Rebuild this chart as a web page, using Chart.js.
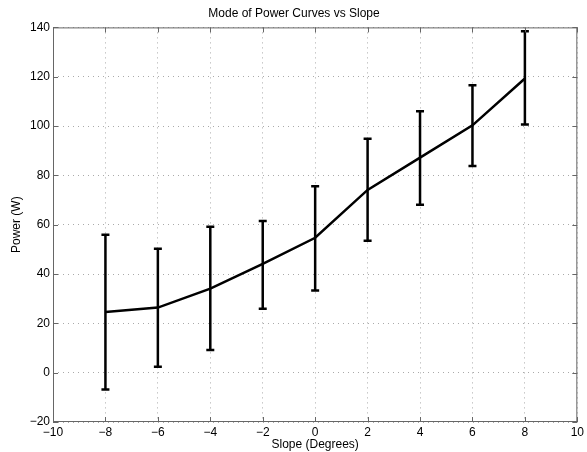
<!DOCTYPE html>
<html>
<head>
<meta charset="utf-8">
<script src="https://cdn.jsdelivr.net/npm/chart.js@4"></script>
<style>
  html, body { margin: 0; padding: 0; background: #fff; }
  #wrap { width: 587px; height: 452px; }
</style>
</head>
<body>
<div id="wrap"><canvas id="chart"></canvas></div>
<script>
// Slope values (degrees)
const slopes = [-8, -6, -4, -2, 0, 2, 4, 6, 8];
// Mode of power (W)
const power = [24.6, 26.4, 34.1, 44.1, 54.7, 74.1, 87.2, 100.3, 119.3];
// error bar ends
const powerLow = [-6.8, 2.4, 9.2, 25.9, 33.3, 53.5, 68.1, 83.8, 100.6];
const powerHigh = [55.9, 50.2, 59.2, 61.5, 75.6, 94.9, 106.0, 116.5, 138.4];

const FONT = "'Liberation Sans', Arial, Helvetica, sans-serif";
const fmt = (v) => String(v).replace("-", "\u2212");

// draws the vertical error bars with caps
const errorBars = {
  id: "errorBars",
  afterDatasetsDraw(chart) {
    const ctx = chart.ctx;
    const xs = chart.scales.x, ys = chart.scales.y;
    ctx.save();
    ctx.strokeStyle = "#000";
    ctx.lineWidth = 2.5;
    slopes.forEach((s, i) => {
      const x = xs.getPixelForValue(s);
      const top = ys.getPixelForValue(powerHigh[i]);
      const bot = ys.getPixelForValue(powerLow[i]);
      ctx.beginPath();
      ctx.moveTo(x, top);
      ctx.lineTo(x, bot);
      ctx.moveTo(x - 4, top);
      ctx.lineTo(x + 4, top);
      ctx.moveTo(x - 4, bot);
      ctx.lineTo(x + 4, bot);
      ctx.stroke();
    });
    ctx.restore();
  }
};

// MATLAB style box with inward ticks on all sides
const axesBox = {
  id: "axesBox",
  afterDraw(chart) {
    const ctx = chart.ctx;
    const a = chart.chartArea;
    const xs = chart.scales.x, ys = chart.scales.y;
    ctx.save();
    ctx.strokeStyle = "#666";
    ctx.lineWidth = 1;
    ctx.strokeRect(a.left + 0.5, a.top + 0.5, a.right - a.left - 1, a.bottom - a.top - 1);
    ctx.beginPath();
    xs.ticks.forEach((t) => {
      const x = Math.round(xs.getPixelForValue(t.value)) + 0.5;
      ctx.moveTo(x, a.bottom);
      ctx.lineTo(x, a.bottom - 5);
      ctx.moveTo(x, a.top);
      ctx.lineTo(x, a.top + 5);
    });
    ys.ticks.forEach((t) => {
      const y = Math.round(ys.getPixelForValue(t.value)) + 0.5;
      ctx.moveTo(a.left, y);
      ctx.lineTo(a.left + 5, y);
      ctx.moveTo(a.right, y);
      ctx.lineTo(a.right - 5, y);
    });
    ctx.stroke();
    ctx.restore();
  }
};

new Chart(document.getElementById("chart"), {
  type: "line",
  data: {
    datasets: [{
      label: "Power",
      data: slopes.map((s, i) => ({ x: s, y: power[i] })),
      borderColor: "#000",
      borderWidth: 2.5,
      pointRadius: 0,
      tension: 0,
      fill: false
    }]
  },
  options: {
    responsive: true,
    maintainAspectRatio: false,
    animation: false,
    layout: { padding: { left: 9, right: 8, top: 0, bottom: 0 } },
    plugins: {
      legend: { display: false },
      tooltip: { enabled: false },
      title: {
        display: true,
        text: "Mode of Power Curves vs Slope",
        color: "#000",
        font: { family: FONT, size: 12, weight: "normal" },
        padding: { top: 6, bottom: 7 }
      }
    },
    scales: {
      x: {
        type: "linear",
        min: -10,
        max: 10,
        ticks: {
          stepSize: 2,
          color: "#000",
          font: { family: FONT, size: 12 },
          padding: 3,
          maxRotation: 0,
          callback: fmt
        },
        grid: { color: "#aaa", drawTicks: false, lineWidth: 1 },
        border: { display: false, dash: [1, 4] },
        title: {
          display: true,
          text: "Slope (Degrees)",
          color: "#000",
          font: { family: FONT, size: 12 },
          padding: 0
        },
        afterFit(scale) { scale.height = 30; }
      },
      y: {
        min: -20,
        max: 140,
        ticks: {
          stepSize: 20,
          color: "#000",
          font: { family: FONT, size: 12 },
          padding: 3,
          callback: fmt
        },
        grid: { color: "#aaa", drawTicks: false, lineWidth: 1 },
        border: { display: false, dash: [1, 4] },
        title: {
          display: true,
          text: "Power (W)",
          color: "#000",
          font: { family: FONT, size: 12 },
          padding: 0
        },
        afterFit(scale) { scale.width = 44; }
      }
    }
  },
  plugins: [errorBars, axesBox]
});
</script>
</body>
</html>
